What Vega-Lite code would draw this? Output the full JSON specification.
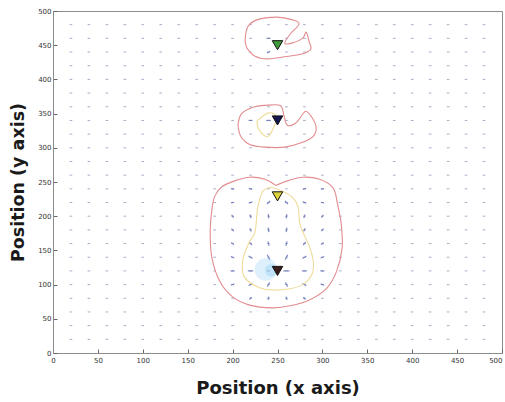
{
  "$schema": "https://vega.github.io/schema/vega-lite/v6.json",
  "width": 449,
  "height": 342,
  "autosize": {"type": "none"},
  "padding": {"left": 53, "top": 11, "right": 3, "bottom": 49},
  "background": "white",
  "config": {"view": {"stroke": "#8c8c8c", "strokeWidth": 1}},
  "datasets": {
    "grid": [
      {"x":20,"y":20},{"x":40,"y":20},{"x":60,"y":20},{"x":80,"y":20},{"x":100,"y":20},{"x":120,"y":20},{"x":140,"y":20},{"x":160,"y":20},{"x":180,"y":20},{"x":200,"y":20},{"x":220,"y":20},{"x":240,"y":20},{"x":260,"y":20},{"x":280,"y":20},{"x":300,"y":20},{"x":320,"y":20},{"x":340,"y":20},{"x":360,"y":20},{"x":380,"y":20},{"x":400,"y":20},{"x":420,"y":20},{"x":440,"y":20},{"x":460,"y":20},{"x":480,"y":20},
      {"x":20,"y":40},{"x":40,"y":40},{"x":60,"y":40},{"x":80,"y":40},{"x":100,"y":40},{"x":120,"y":40},{"x":140,"y":40},{"x":160,"y":40},{"x":180,"y":40},{"x":200,"y":40},{"x":220,"y":40},{"x":240,"y":40},{"x":260,"y":40},{"x":280,"y":40},{"x":300,"y":40},{"x":320,"y":40},{"x":340,"y":40},{"x":360,"y":40},{"x":380,"y":40},{"x":400,"y":40},{"x":420,"y":40},{"x":440,"y":40},{"x":460,"y":40},{"x":480,"y":40},
      {"x":20,"y":60},{"x":40,"y":60},{"x":60,"y":60},{"x":80,"y":60},{"x":100,"y":60},{"x":120,"y":60},{"x":140,"y":60},{"x":160,"y":60},{"x":180,"y":60},{"x":200,"y":60},{"x":220,"y":60},{"x":240,"y":60},{"x":260,"y":60},{"x":280,"y":60},{"x":300,"y":60},{"x":320,"y":60},{"x":340,"y":60},{"x":360,"y":60},{"x":380,"y":60},{"x":400,"y":60},{"x":420,"y":60},{"x":440,"y":60},{"x":460,"y":60},{"x":480,"y":60},
      {"x":20,"y":80},{"x":40,"y":80},{"x":60,"y":80},{"x":80,"y":80},{"x":100,"y":80},{"x":120,"y":80},{"x":140,"y":80},{"x":160,"y":80},{"x":180,"y":80},{"x":200,"y":80},{"x":220,"y":80},{"x":240,"y":80},{"x":260,"y":80},{"x":280,"y":80},{"x":300,"y":80},{"x":320,"y":80},{"x":340,"y":80},{"x":360,"y":80},{"x":380,"y":80},{"x":400,"y":80},{"x":420,"y":80},{"x":440,"y":80},{"x":460,"y":80},{"x":480,"y":80},
      {"x":20,"y":100},{"x":40,"y":100},{"x":60,"y":100},{"x":80,"y":100},{"x":100,"y":100},{"x":120,"y":100},{"x":140,"y":100},{"x":160,"y":100},{"x":180,"y":100},{"x":200,"y":100},{"x":220,"y":100},{"x":240,"y":100},{"x":260,"y":100},{"x":280,"y":100},{"x":300,"y":100},{"x":320,"y":100},{"x":340,"y":100},{"x":360,"y":100},{"x":380,"y":100},{"x":400,"y":100},{"x":420,"y":100},{"x":440,"y":100},{"x":460,"y":100},{"x":480,"y":100},
      {"x":20,"y":120},{"x":40,"y":120},{"x":60,"y":120},{"x":80,"y":120},{"x":100,"y":120},{"x":120,"y":120},{"x":140,"y":120},{"x":160,"y":120},{"x":180,"y":120},{"x":200,"y":120},{"x":220,"y":120},{"x":240,"y":120},{"x":260,"y":120},{"x":280,"y":120},{"x":300,"y":120},{"x":320,"y":120},{"x":340,"y":120},{"x":360,"y":120},{"x":380,"y":120},{"x":400,"y":120},{"x":420,"y":120},{"x":440,"y":120},{"x":460,"y":120},{"x":480,"y":120},
      {"x":20,"y":140},{"x":40,"y":140},{"x":60,"y":140},{"x":80,"y":140},{"x":100,"y":140},{"x":120,"y":140},{"x":140,"y":140},{"x":160,"y":140},{"x":180,"y":140},{"x":200,"y":140},{"x":220,"y":140},{"x":240,"y":140},{"x":260,"y":140},{"x":280,"y":140},{"x":300,"y":140},{"x":320,"y":140},{"x":340,"y":140},{"x":360,"y":140},{"x":380,"y":140},{"x":400,"y":140},{"x":420,"y":140},{"x":440,"y":140},{"x":460,"y":140},{"x":480,"y":140},
      {"x":20,"y":160},{"x":40,"y":160},{"x":60,"y":160},{"x":80,"y":160},{"x":100,"y":160},{"x":120,"y":160},{"x":140,"y":160},{"x":160,"y":160},{"x":180,"y":160},{"x":200,"y":160},{"x":220,"y":160},{"x":240,"y":160},{"x":260,"y":160},{"x":280,"y":160},{"x":300,"y":160},{"x":320,"y":160},{"x":340,"y":160},{"x":360,"y":160},{"x":380,"y":160},{"x":400,"y":160},{"x":420,"y":160},{"x":440,"y":160},{"x":460,"y":160},{"x":480,"y":160},
      {"x":20,"y":180},{"x":40,"y":180},{"x":60,"y":180},{"x":80,"y":180},{"x":100,"y":180},{"x":120,"y":180},{"x":140,"y":180},{"x":160,"y":180},{"x":180,"y":180},{"x":200,"y":180},{"x":220,"y":180},{"x":240,"y":180},{"x":260,"y":180},{"x":280,"y":180},{"x":300,"y":180},{"x":320,"y":180},{"x":340,"y":180},{"x":360,"y":180},{"x":380,"y":180},{"x":400,"y":180},{"x":420,"y":180},{"x":440,"y":180},{"x":460,"y":180},{"x":480,"y":180},
      {"x":20,"y":200},{"x":40,"y":200},{"x":60,"y":200},{"x":80,"y":200},{"x":100,"y":200},{"x":120,"y":200},{"x":140,"y":200},{"x":160,"y":200},{"x":180,"y":200},{"x":200,"y":200},{"x":220,"y":200},{"x":240,"y":200},{"x":260,"y":200},{"x":280,"y":200},{"x":300,"y":200},{"x":320,"y":200},{"x":340,"y":200},{"x":360,"y":200},{"x":380,"y":200},{"x":400,"y":200},{"x":420,"y":200},{"x":440,"y":200},{"x":460,"y":200},{"x":480,"y":200},
      {"x":20,"y":220},{"x":40,"y":220},{"x":60,"y":220},{"x":80,"y":220},{"x":100,"y":220},{"x":120,"y":220},{"x":140,"y":220},{"x":160,"y":220},{"x":180,"y":220},{"x":200,"y":220},{"x":220,"y":220},{"x":240,"y":220},{"x":260,"y":220},{"x":280,"y":220},{"x":300,"y":220},{"x":320,"y":220},{"x":340,"y":220},{"x":360,"y":220},{"x":380,"y":220},{"x":400,"y":220},{"x":420,"y":220},{"x":440,"y":220},{"x":460,"y":220},{"x":480,"y":220},
      {"x":20,"y":240},{"x":40,"y":240},{"x":60,"y":240},{"x":80,"y":240},{"x":100,"y":240},{"x":120,"y":240},{"x":140,"y":240},{"x":160,"y":240},{"x":180,"y":240},{"x":200,"y":240},{"x":220,"y":240},{"x":240,"y":240},{"x":260,"y":240},{"x":280,"y":240},{"x":300,"y":240},{"x":320,"y":240},{"x":340,"y":240},{"x":360,"y":240},{"x":380,"y":240},{"x":400,"y":240},{"x":420,"y":240},{"x":440,"y":240},{"x":460,"y":240},{"x":480,"y":240},
      {"x":20,"y":260},{"x":40,"y":260},{"x":60,"y":260},{"x":80,"y":260},{"x":100,"y":260},{"x":120,"y":260},{"x":140,"y":260},{"x":160,"y":260},{"x":180,"y":260},{"x":200,"y":260},{"x":220,"y":260},{"x":240,"y":260},{"x":260,"y":260},{"x":280,"y":260},{"x":300,"y":260},{"x":320,"y":260},{"x":340,"y":260},{"x":360,"y":260},{"x":380,"y":260},{"x":400,"y":260},{"x":420,"y":260},{"x":440,"y":260},{"x":460,"y":260},{"x":480,"y":260},
      {"x":20,"y":280},{"x":40,"y":280},{"x":60,"y":280},{"x":80,"y":280},{"x":100,"y":280},{"x":120,"y":280},{"x":140,"y":280},{"x":160,"y":280},{"x":180,"y":280},{"x":200,"y":280},{"x":220,"y":280},{"x":240,"y":280},{"x":260,"y":280},{"x":280,"y":280},{"x":300,"y":280},{"x":320,"y":280},{"x":340,"y":280},{"x":360,"y":280},{"x":380,"y":280},{"x":400,"y":280},{"x":420,"y":280},{"x":440,"y":280},{"x":460,"y":280},{"x":480,"y":280},
      {"x":20,"y":300},{"x":40,"y":300},{"x":60,"y":300},{"x":80,"y":300},{"x":100,"y":300},{"x":120,"y":300},{"x":140,"y":300},{"x":160,"y":300},{"x":180,"y":300},{"x":200,"y":300},{"x":220,"y":300},{"x":240,"y":300},{"x":260,"y":300},{"x":280,"y":300},{"x":300,"y":300},{"x":320,"y":300},{"x":340,"y":300},{"x":360,"y":300},{"x":380,"y":300},{"x":400,"y":300},{"x":420,"y":300},{"x":440,"y":300},{"x":460,"y":300},{"x":480,"y":300},
      {"x":20,"y":320},{"x":40,"y":320},{"x":60,"y":320},{"x":80,"y":320},{"x":100,"y":320},{"x":120,"y":320},{"x":140,"y":320},{"x":160,"y":320},{"x":180,"y":320},{"x":200,"y":320},{"x":220,"y":320},{"x":240,"y":320},{"x":260,"y":320},{"x":280,"y":320},{"x":300,"y":320},{"x":320,"y":320},{"x":340,"y":320},{"x":360,"y":320},{"x":380,"y":320},{"x":400,"y":320},{"x":420,"y":320},{"x":440,"y":320},{"x":460,"y":320},{"x":480,"y":320},
      {"x":20,"y":340},{"x":40,"y":340},{"x":60,"y":340},{"x":80,"y":340},{"x":100,"y":340},{"x":120,"y":340},{"x":140,"y":340},{"x":160,"y":340},{"x":180,"y":340},{"x":200,"y":340},{"x":220,"y":340},{"x":240,"y":340},{"x":260,"y":340},{"x":280,"y":340},{"x":300,"y":340},{"x":320,"y":340},{"x":340,"y":340},{"x":360,"y":340},{"x":380,"y":340},{"x":400,"y":340},{"x":420,"y":340},{"x":440,"y":340},{"x":460,"y":340},{"x":480,"y":340},
      {"x":20,"y":360},{"x":40,"y":360},{"x":60,"y":360},{"x":80,"y":360},{"x":100,"y":360},{"x":120,"y":360},{"x":140,"y":360},{"x":160,"y":360},{"x":180,"y":360},{"x":200,"y":360},{"x":220,"y":360},{"x":240,"y":360},{"x":260,"y":360},{"x":280,"y":360},{"x":300,"y":360},{"x":320,"y":360},{"x":340,"y":360},{"x":360,"y":360},{"x":380,"y":360},{"x":400,"y":360},{"x":420,"y":360},{"x":440,"y":360},{"x":460,"y":360},{"x":480,"y":360},
      {"x":20,"y":380},{"x":40,"y":380},{"x":60,"y":380},{"x":80,"y":380},{"x":100,"y":380},{"x":120,"y":380},{"x":140,"y":380},{"x":160,"y":380},{"x":180,"y":380},{"x":200,"y":380},{"x":220,"y":380},{"x":240,"y":380},{"x":260,"y":380},{"x":280,"y":380},{"x":300,"y":380},{"x":320,"y":380},{"x":340,"y":380},{"x":360,"y":380},{"x":380,"y":380},{"x":400,"y":380},{"x":420,"y":380},{"x":440,"y":380},{"x":460,"y":380},{"x":480,"y":380},
      {"x":20,"y":400},{"x":40,"y":400},{"x":60,"y":400},{"x":80,"y":400},{"x":100,"y":400},{"x":120,"y":400},{"x":140,"y":400},{"x":160,"y":400},{"x":180,"y":400},{"x":200,"y":400},{"x":220,"y":400},{"x":240,"y":400},{"x":260,"y":400},{"x":280,"y":400},{"x":300,"y":400},{"x":320,"y":400},{"x":340,"y":400},{"x":360,"y":400},{"x":380,"y":400},{"x":400,"y":400},{"x":420,"y":400},{"x":440,"y":400},{"x":460,"y":400},{"x":480,"y":400},
      {"x":20,"y":420},{"x":40,"y":420},{"x":60,"y":420},{"x":80,"y":420},{"x":100,"y":420},{"x":120,"y":420},{"x":140,"y":420},{"x":160,"y":420},{"x":180,"y":420},{"x":200,"y":420},{"x":220,"y":420},{"x":240,"y":420},{"x":260,"y":420},{"x":280,"y":420},{"x":300,"y":420},{"x":320,"y":420},{"x":340,"y":420},{"x":360,"y":420},{"x":380,"y":420},{"x":400,"y":420},{"x":420,"y":420},{"x":440,"y":420},{"x":460,"y":420},{"x":480,"y":420},
      {"x":20,"y":440},{"x":40,"y":440},{"x":60,"y":440},{"x":80,"y":440},{"x":100,"y":440},{"x":120,"y":440},{"x":140,"y":440},{"x":160,"y":440},{"x":180,"y":440},{"x":200,"y":440},{"x":220,"y":440},{"x":240,"y":440},{"x":260,"y":440},{"x":280,"y":440},{"x":300,"y":440},{"x":320,"y":440},{"x":340,"y":440},{"x":360,"y":440},{"x":380,"y":440},{"x":400,"y":440},{"x":420,"y":440},{"x":440,"y":440},{"x":460,"y":440},{"x":480,"y":440},
      {"x":20,"y":460},{"x":40,"y":460},{"x":60,"y":460},{"x":80,"y":460},{"x":100,"y":460},{"x":120,"y":460},{"x":140,"y":460},{"x":160,"y":460},{"x":180,"y":460},{"x":200,"y":460},{"x":220,"y":460},{"x":240,"y":460},{"x":260,"y":460},{"x":280,"y":460},{"x":300,"y":460},{"x":320,"y":460},{"x":340,"y":460},{"x":360,"y":460},{"x":380,"y":460},{"x":400,"y":460},{"x":420,"y":460},{"x":440,"y":460},{"x":460,"y":460},{"x":480,"y":460},
      {"x":20,"y":480},{"x":40,"y":480},{"x":60,"y":480},{"x":80,"y":480},{"x":100,"y":480},{"x":120,"y":480},{"x":140,"y":480},{"x":160,"y":480},{"x":180,"y":480},{"x":200,"y":480},{"x":220,"y":480},{"x":240,"y":480},{"x":260,"y":480},{"x":280,"y":480},{"x":300,"y":480},{"x":320,"y":480},{"x":340,"y":480},{"x":360,"y":480},{"x":380,"y":480},{"x":400,"y":480},{"x":420,"y":480},{"x":440,"y":480},{"x":460,"y":480},{"x":480,"y":480}
    ],
    "arrows": [
      {"x":200,"y":240,"a":11,"s":10},{"x":220,"y":240,"a":18,"s":12},{"x":280,"y":240,"a":162,"s":12},{"x":300,"y":240,"a":-11,"s":10},
      {"x":200,"y":220,"a":-11,"s":10},{"x":220,"y":220,"a":-18,"s":14},{"x":240,"y":220,"a":-45,"s":18},{"x":260,"y":220,"a":45,"s":18},{"x":280,"y":220,"a":18,"s":14},{"x":300,"y":220,"a":11,"s":10},
      {"x":200,"y":200,"a":58,"s":12},{"x":220,"y":200,"a":69,"s":14},{"x":240,"y":200,"a":83,"s":18},{"x":260,"y":200,"a":97,"s":18},{"x":280,"y":200,"a":111,"s":14},{"x":300,"y":200,"a":122,"s":12},
      {"x":200,"y":180,"a":50,"s":12},{"x":220,"y":180,"a":63,"s":14},{"x":240,"y":180,"a":80,"s":20},{"x":260,"y":180,"a":100,"s":20},{"x":280,"y":180,"a":117,"s":14},{"x":300,"y":180,"a":130,"s":12},
      {"x":200,"y":160,"a":39,"s":12},{"x":220,"y":160,"a":53,"s":16},{"x":240,"y":160,"a":76,"s":22},{"x":260,"y":160,"a":104,"s":22},{"x":280,"y":160,"a":127,"s":16},{"x":300,"y":160,"a":141,"s":12},
      {"x":200,"y":140,"a":22,"s":14},{"x":220,"y":140,"a":34,"s":22},{"x":240,"y":140,"a":63,"s":30},{"x":260,"y":140,"a":117,"s":30},{"x":280,"y":140,"a":146,"s":22},{"x":300,"y":140,"a":158,"s":14},
      {"x":200,"y":120,"a":0,"s":16},{"x":220,"y":120,"a":0,"s":30},{"x":260,"y":120,"a":0,"s":40},{"x":280,"y":120,"a":0,"s":25},{"x":300,"y":120,"a":0,"s":16},
      {"x":200,"y":100,"a":-22,"s":14},{"x":220,"y":100,"a":-34,"s":20},{"x":240,"y":100,"a":-63,"s":25},{"x":260,"y":100,"a":63,"s":25},{"x":280,"y":100,"a":34,"s":20},{"x":300,"y":100,"a":22,"s":14},
      {"x":220,"y":80,"a":-50,"s":10},{"x":240,"y":80,"a":-75,"s":12},{"x":260,"y":80,"a":75,"s":12},{"x":280,"y":80,"a":50,"s":10},
      {"x":220,"y":340,"a":0,"s":16},{"x":240,"y":340,"a":0,"s":22},{"x":240,"y":460,"a":0,"s":16},{"x":240,"y":440,"a":-30,"s":12}
    ],
    "glow": [
      {"x":237,"y":122,"s":500,"o":0.4},
      {"x":243,"y":121,"s":160,"o":0.55}
    ],
    "contours": [
      {"c":"r1","i":0,"x":214,"y":459},{"c":"r1","i":1,"x":217,"y":477},{"c":"r1","i":2,"x":227,"y":487},{"c":"r1","i":3,"x":249,"y":491},{"c":"r1","i":4,"x":267,"y":487},{"c":"r1","i":5,"x":274,"y":481},{"c":"r1","i":6,"x":264,"y":466},{"c":"r1","i":7,"x":258,"y":453},{"c":"r1","i":8,"x":266,"y":453},{"c":"r1","i":9,"x":278,"y":460},{"c":"r1","i":10,"x":282,"y":469},{"c":"r1","i":11,"x":285,"y":456},{"c":"r1","i":12,"x":287,"y":444},{"c":"r1","i":13,"x":277,"y":437},{"c":"r1","i":14,"x":258,"y":433},{"c":"r1","i":15,"x":239,"y":430},{"c":"r1","i":16,"x":225,"y":434},{"c":"r1","i":17,"x":216,"y":446},{"c":"r1","i":18,"x":214,"y":459},
      {"c":"r2","i":0,"x":206,"y":334},{"c":"r2","i":1,"x":210,"y":350},{"c":"r2","i":2,"x":222,"y":359},{"c":"r2","i":3,"x":236,"y":362},{"c":"r2","i":4,"x":253,"y":362},{"c":"r2","i":5,"x":257,"y":348},{"c":"r2","i":6,"x":261,"y":333},{"c":"r2","i":7,"x":271,"y":337},{"c":"r2","i":8,"x":281,"y":353},{"c":"r2","i":9,"x":288,"y":345},{"c":"r2","i":10,"x":293,"y":330},{"c":"r2","i":11,"x":290,"y":317},{"c":"r2","i":12,"x":278,"y":308},{"c":"r2","i":13,"x":258,"y":301},{"c":"r2","i":14,"x":236,"y":301},{"c":"r2","i":15,"x":219,"y":305},{"c":"r2","i":16,"x":209,"y":317},{"c":"r2","i":17,"x":206,"y":334},
      {"c":"r3","i":0,"x":248,"y":245},{"c":"r3","i":1,"x":236,"y":254},{"c":"r3","i":2,"x":219,"y":257},{"c":"r3","i":3,"x":203,"y":252},{"c":"r3","i":4,"x":188,"y":243},{"c":"r3","i":5,"x":180,"y":229},{"c":"r3","i":6,"x":177,"y":210},{"c":"r3","i":7,"x":175,"y":177},{"c":"r3","i":8,"x":177,"y":139},{"c":"r3","i":9,"x":186,"y":104},{"c":"r3","i":10,"x":200,"y":82},{"c":"r3","i":11,"x":219,"y":70},{"c":"r3","i":12,"x":244,"y":66},{"c":"r3","i":13,"x":264,"y":69},{"c":"r3","i":14,"x":286,"y":78},{"c":"r3","i":15,"x":305,"y":95},{"c":"r3","i":16,"x":316,"y":120},{"c":"r3","i":17,"x":322,"y":154},{"c":"r3","i":18,"x":321,"y":188},{"c":"r3","i":19,"x":317,"y":217},{"c":"r3","i":20,"x":312,"y":241},{"c":"r3","i":21,"x":297,"y":254},{"c":"r3","i":22,"x":278,"y":257},{"c":"r3","i":23,"x":262,"y":252},{"c":"r3","i":24,"x":248,"y":245},
      {"c":"y2","i":0,"x":227,"y":339},{"c":"y2","i":1,"x":240,"y":351},{"c":"y2","i":2,"x":249,"y":344},{"c":"y2","i":3,"x":240,"y":317},{"c":"y2","i":4,"x":230,"y":325},{"c":"y2","i":5,"x":227,"y":339},
      {"c":"y3","i":0,"x":233,"y":236},{"c":"y3","i":1,"x":242,"y":242},{"c":"y3","i":2,"x":256,"y":236},{"c":"y3","i":3,"x":267,"y":227},{"c":"y3","i":4,"x":273,"y":213},{"c":"y3","i":5,"x":275,"y":188},{"c":"y3","i":6,"x":281,"y":169},{"c":"y3","i":7,"x":286,"y":154},{"c":"y3","i":8,"x":290,"y":133},{"c":"y3","i":9,"x":288,"y":114},{"c":"y3","i":10,"x":278,"y":100},{"c":"y3","i":11,"x":264,"y":94},{"c":"y3","i":12,"x":244,"y":92},{"c":"y3","i":13,"x":231,"y":95},{"c":"y3","i":14,"x":219,"y":103},{"c":"y3","i":15,"x":212,"y":114},{"c":"y3","i":16,"x":211,"y":133},{"c":"y3","i":17,"x":214,"y":148},{"c":"y3","i":18,"x":219,"y":163},{"c":"y3","i":19,"x":225,"y":177},{"c":"y3","i":20,"x":228,"y":213},{"c":"y3","i":21,"x":233,"y":236}
    ],
    "markers": [
      {"x":250,"y":450,"f":"#3f9a3a"},
      {"x":250,"y":340,"f":"#16164e"},
      {"x":250,"y":229,"f":"#dcd23c"},
      {"x":250,"y":120,"f":"#3a1c1c"}
    ]
  },
  "encoding": {
    "x": {
      "field": "x", "type": "quantitative",
      "scale": {"domain": [0, 500], "nice": false, "zero": false},
      "axis": {
        "values": [0, 50, 100, 150, 200, 250, 300, 350, 400, 450, 500],
        "title": "Position (x axis)", "grid": false, "tickSize": -4, "tickColor": "#666666",
        "domainColor": "#8c8c8c", "labelFont": "DejaVu Sans", "labelFontSize": 7, "labelColor": "#333333",
        "labelPadding": 7, "labelFlush": false, "labelOverlap": false,
        "labelAlign": {"condition": {"test": "datum.value == 500", "value": "right"}, "value": "center"},
        "titleFont": "DejaVu Sans", "titleFontWeight": "bold", "titleFontSize": 18, "titleColor": "#1a1a1a", "titlePadding": 16
      }
    },
    "y": {
      "field": "y", "type": "quantitative",
      "scale": {"domain": [0, 500], "nice": false, "zero": false},
      "axis": {
        "values": [0, 50, 100, 150, 200, 250, 300, 350, 400, 450, 500],
        "title": "Position (y axis)", "grid": false, "tickSize": -4, "tickColor": "#666666",
        "domainColor": "#8c8c8c", "labelFont": "DejaVu Sans", "labelFontSize": 7, "labelColor": "#333333",
        "labelPadding": 6, "labelOverlap": false,
        "titleFont": "DejaVu Sans", "titleFontWeight": "bold", "titleFontSize": 17.5, "titleColor": "#1a1a1a", "titlePadding": 10
      }
    }
  },
  "layer": [
    {
      "data": {"name": "glow"},
      "mark": {"type": "point", "shape": "circle", "filled": true, "color": "#a9d9f7"},
      "encoding": {
        "size": {"field": "s", "type": "quantitative", "scale": null},
        "opacity": {"field": "o", "type": "quantitative", "scale": null}
      }
    },
    {
      "data": {"name": "grid"},
      "mark": {"type": "point", "shape": "stroke", "size": 7, "filled": false, "color": "#8b91b5", "strokeWidth": 1, "opacity": 0.75}
    },
    {
      "data": {"name": "arrows"},
      "mark": {"type": "point", "shape": "stroke", "filled": false, "color": "#6672bc", "strokeWidth": 1.2, "opacity": 0.8},
      "encoding": {
        "angle": {"field": "a", "type": "quantitative", "scale": null},
        "size": {"field": "s", "type": "quantitative", "scale": null}
      }
    },
    {
      "data": {"name": "contours"},
      "mark": {"type": "line", "interpolate": "cardinal", "strokeWidth": 1.1},
      "encoding": {
        "color": {"field": "c", "type": "nominal", "scale": {"domain": ["r1", "r2", "r3", "y2", "y3"], "range": ["#e28c90", "#e28c90", "#e28c90", "#eedc9a", "#eedc9a"]}, "legend": null},
        "order": {"field": "i", "type": "quantitative"}
      }
    },
    {
      "data": {"name": "markers"},
      "mark": {"type": "point", "shape": "triangle-down", "filled": true, "size": 110, "stroke": "#111111", "strokeWidth": 1, "opacity": 1},
      "encoding": {
        "fill": {"field": "f", "type": "nominal", "scale": null}
      }
    }
  ]
}
